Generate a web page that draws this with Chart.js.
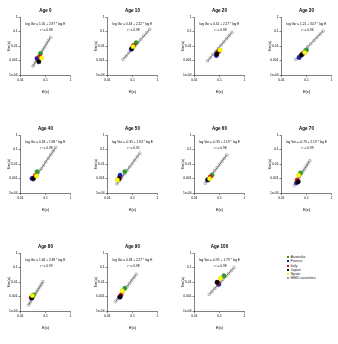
<!DOCTYPE html>
<html>
<head>
<meta charset="utf-8">
<script src="https://cdn.jsdelivr.net/npm/chart.js@4/dist/chart.umd.min.js"></script>
<style>
body{margin:0;background:#fff;width:338px;height:344px;position:relative;overflow:hidden;font-family:"Liberation Sans",Arial,sans-serif}
canvas{position:absolute}
#legend{position:absolute;left:287px;top:255px;font-size:3.8px;line-height:4.25px;color:#222}
#legend div{white-space:nowrap}
#legend span{display:inline-block;width:2px;height:2px;margin-right:1.5px;vertical-align:middle}
</style>
</head>
<body>
<div id="legend"></div>
<script>
// panels, one per age
let ages=[0,10,20,30,40,50,60,70,80,90,100];
let fitA=['1.05','0.43','0.41','1.21','0.18','-0.35','-0.35','-0.73','1.46','0.58','-0.91'];
let fitB=['2.97','2.22','2.17','3.07','1.98','1.94','2.19','2.19','2.38','2.27','1.79'];
let rsq=['0.98','0.98','0.98','0.96','0.98','0.95','0.98','0.99','0.99','0.98','0.98'];
let xTicks=[0.01,0.1,1];
let yTicks=[0.0001,0.001,0.01,0.1,1];
let yTickLabels=['1e-04','0.001','0.01','0.1','1'];

// HMD countries (grey)
let hmdE=[
 [0.032,0.038,0.046,0.054,0.065,0.078,0.093,0.11,0.13,0.16],
 [0.042,0.055,0.072,0.095,0.126,0.162,0.214,0.28,0.37,0.49],
 [0.033,0.043,0.055,0.071,0.091,0.115,0.148,0.19,0.245,0.316],
 [0.037,0.049,0.065,0.085,0.112,0.148,0.2,0.263,0.347,0.457],
 [0.033,0.042,0.052,0.066,0.083,0.102,0.129,0.162,0.204,0.257],
 [0.024,0.030,0.038,0.048,0.060,0.078,0.098,0.123,0.155,0.195],
 [0.027,0.034,0.042,0.052,0.065,0.081,0.1,0.126,0.155,0.195],
 [0.033,0.039,0.046,0.052,0.062,0.072,0.085,0.098,0.115,0.135],
 [0.021,0.024,0.028,0.032,0.038,0.044,0.050,0.059,0.068,0.079],
 [0.021,0.026,0.032,0.040,0.049,0.062,0.076,0.093,0.115,0.141],
 [0.039,0.050,0.065,0.083,0.107,0.138,0.178,0.229,0.295,0.38]
];
let hmdV=[
 [0.00042,0.00072,0.0011,0.0020,0.0032,0.0055,0.0087,0.015,0.024,0.040],
 [0.0012,0.0020,0.0035,0.0059,0.010,0.017,0.029,0.049,0.083,0.14],
 [0.00093,0.0015,0.0026,0.0043,0.0071,0.0115,0.019,0.032,0.052,0.087],
 [0.0012,0.0020,0.0032,0.0054,0.0089,0.0145,0.024,0.040,0.065,0.107],
 [0.00079,0.0014,0.0025,0.0045,0.0079,0.014,0.025,0.045,0.079,0.14],
 [0.00042,0.00072,0.0012,0.0021,0.0036,0.0063,0.0107,0.0186,0.032,0.055],
 [0.00047,0.00078,0.0013,0.0021,0.0035,0.0056,0.0093,0.0155,0.025,0.042],
 [0.00035,0.00055,0.00083,0.0013,0.0020,0.0030,0.0047,0.0072,0.011,0.017],
 [0.00026,0.00039,0.00059,0.00089,0.00135,0.0020,0.0030,0.0046,0.0069,0.0105],
 [0.00044,0.00071,0.00115,0.0019,0.0030,0.0049,0.0079,0.0129,0.021,0.034],
 [0.0014,0.0022,0.0036,0.0058,0.0093,0.0148,0.024,0.038,0.060,0.098]
];
// fitted line ends
let lineE=[[0.031,0.16],[0.042,0.49],[0.033,0.316],[0.037,0.457],[0.033,0.257],[0.024,0.195],[0.027,0.195],[0.033,0.135],[0.021,0.079],[0.021,0.141],[0.039,0.38]];
let lineV=[[0.0004,0.040],[0.0012,0.14],[0.00093,0.087],[0.0012,0.107],[0.00079,0.14],[0.00042,0.055],[0.00047,0.042],[0.00035,0.017],[0.00026,0.0105],[0.00044,0.034],[0.0014,0.098]];

// countries
let countries=['Australia','France','Italy','Japan','Spain'];
let colors=['#2e9a2e','#1a1aa6','#d01818','#000000','#ffff00'];
let ausE=[0.063,0.14,0.095,0.1,0.046,0.049,0.05,0.057,0.033,0.049,0.15];
let ausV=[0.0031,0.017,0.0045,0.0053,0.003,0.003,0.0017,0.0024,0.0013,0.0037,0.027];
let fraE=[0.046,0.09,0.075,0.051,0.029,0.032,0.033,0.04,0.027,0.031,0.093];
let fraV=[0.0014,0.006,0.0022,0.0016,0.001,0.0017,0.0008,0.0005,0.0008,0.0009,0.0069];
let itaE=[0.059,0.11,0.09,0.074,0.039,0.030,0.043,0.042,0.028,0.035,0.085];
let itaV=[0.0018,0.011,0.004,0.0031,0.0016,0.001,0.0013,0.00079,0.0009,0.0013,0.009];
let jpnE=[0.054,0.095,0.078,0.063,0.033,0.029,0.035,0.047,0.029,0.032,0.08];
let jpnV=[0.00083,0.0069,0.0028,0.0024,0.001,0.001,0.00083,0.0006,0.00083,0.00097,0.0095];
let spaE=[0.069,0.105,0.105,0.085,0.043,0.025,0.04,0.049,0.030,0.04,0.11];
let spaV=[0.0015,0.009,0.0053,0.0035,0.0015,0.00079,0.00095,0.0017,0.00114,0.0024,0.018];
let cE=[ausE,fraE,itaE,jpnE,spaE];
let cV=[ausV,fraV,itaV,jpnV,spaV];

function pts(xs,ys){
  return xs.map(function(x,i){return {x:x,y:ys[i]};});
}

let textPlugin={
  id:'panelText',
  afterDraw:function(chart){
    let ctx=chart.ctx, a=chart.chartArea, i=chart.options.panelIndex;
    let cx=(a.left+a.right)/2;
    ctx.save();
    ctx.fillStyle='#000';
    ctx.textAlign='center';
    ctx.textBaseline='middle';
    ctx.font='bold 4.5px "Liberation Sans", Arial, sans-serif';
    ctx.fillText('Age '+ages[i],cx,a.top-6.5);
    ctx.font='3.2px "Liberation Sans", Arial, sans-serif';
    ctx.fillText('log Var = '+fitA[i]+' + '+fitB[i]+' * log E',cx,a.top+7);
    ctx.fillText('r\u00b2 = '+rsq[i],cx+1,a.top+13);
    ctx.restore();
  }
};

let tickFont={family:'"Liberation Sans", Arial, sans-serif',size:3.3};
let titleFont={family:'"Liberation Sans", Arial, sans-serif',size:3.9};

for(let i=0;i<ages.length;i++){
  let c=i%4, r=Math.floor(i/4);
  let cv=document.createElement('canvas');
  cv.width=87; cv.height=118;
  cv.style.left=(87*c)+'px';
  cv.style.top=(118*r)+'px';
  document.body.appendChild(cv);

  let ds=[];
  for(let k=0;k<countries.length;k++){
    ds.push({label:countries[k],data:pts([cE[k][i]],[cV[k][i]]),order:5-k,
      pointRadius:2.2,pointBorderWidth:0.4,backgroundColor:colors[k],
      borderColor:k==4?'#c8c800':colors[k]});
  }
  ds.push({type:'line',label:'fit',data:pts(lineE[i],lineV[i]),order:6,
    borderColor:'#444',borderWidth:0.7,pointRadius:0,fill:false});
  ds.push({label:'HMD countries',data:pts(hmdE[i],hmdV[i]),order:7,
    pointRadius:1.4,pointBorderWidth:0.6,borderColor:'#8a8a8a',backgroundColor:'rgba(255,255,255,0)'});

  new Chart(cv,{
    type:'scatter',
    data:{datasets:ds},
    plugins:[textPlugin],
    options:{
      panelIndex:i,
      responsive:false,
      animation:false,
      devicePixelRatio:1,
      layout:{padding:{left:0,right:16.5,top:17,bottom:23}},
      plugins:{legend:{display:false},tooltip:{enabled:false}},
      scales:{
        x:{
          type:'logarithmic',min:0.01,max:1,
          afterBuildTicks:function(s){s.ticks=xTicks.map(function(v){return {value:v};});},
          afterFit:function(s){s.height=20;},
          ticks:{font:tickFont,color:'#000',padding:1.5,maxRotation:0,minRotation:0,
            callback:function(v){return String(v);}},
          grid:{drawOnChartArea:false,drawTicks:true,tickLength:2,color:'#000',lineWidth:0.5},
          border:{display:true,color:'#000',width:0.5},
          title:{display:true,text:'E(x)',font:titleFont,color:'#000',padding:{top:0,bottom:0.5}}
        },
        y:{
          type:'logarithmic',min:0.0001,max:1,
          afterBuildTicks:function(s){s.ticks=yTicks.map(function(v){return {value:v};});},
          afterFit:function(s){s.width=20.5;},
          ticks:{font:tickFont,color:'#000',padding:1,maxRotation:0,minRotation:0,
            callback:function(v){let j=yTicks.indexOf(v);return j>=0?yTickLabels[j]:'';}},
          grid:{drawOnChartArea:false,drawTicks:true,tickLength:2,color:'#000',lineWidth:0.5},
          border:{display:true,color:'#000',width:0.5},
          title:{display:true,text:'Var(x)',font:titleFont,color:'#000',padding:{top:6.5,bottom:0}}
        }
      }
    }
  });
}

// legend
let leg=document.getElementById('legend');
let legNames=countries.concat(['HMD countries']);
let legColors=colors.concat(['#999999']);
for(let k=0;k<legNames.length;k++){
  let d=document.createElement('div');
  d.innerHTML='<span style="background:'+legColors[k]+'"></span>'+legNames[k];
  leg.appendChild(d);
}
</script>
</body>
</html>
